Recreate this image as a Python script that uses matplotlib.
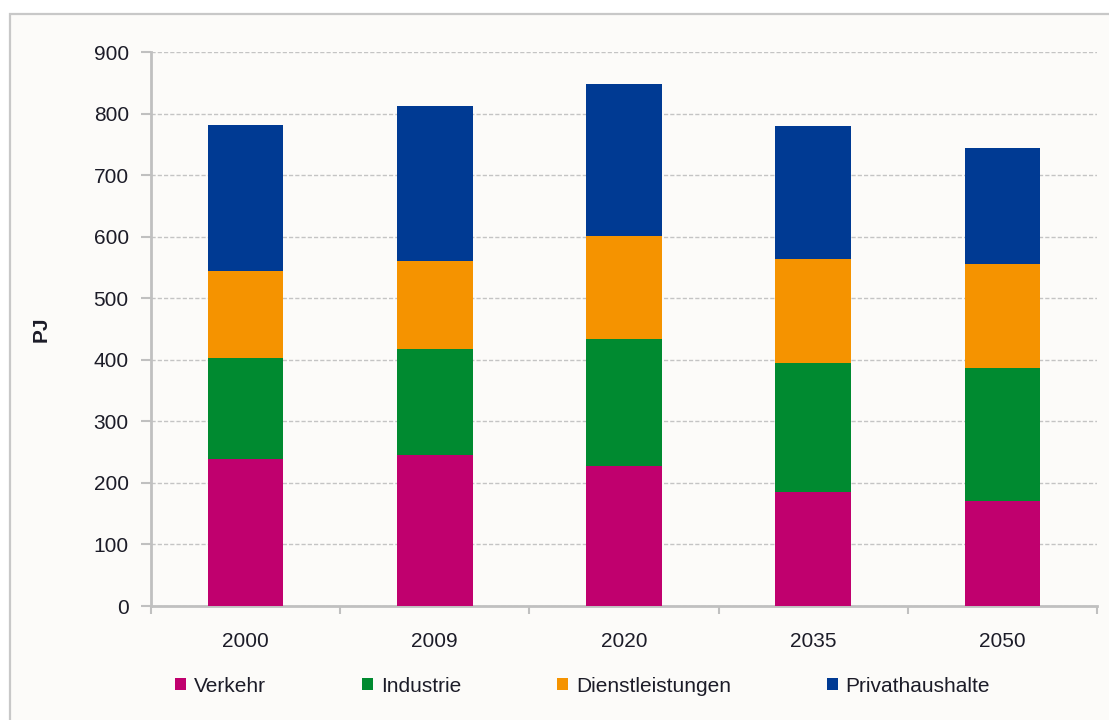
import matplotlib
matplotlib.use("Agg")
import matplotlib.pyplot as plt
from matplotlib.patches import Rectangle, Patch
import numpy as np

years = ["2000", "2009", "2020", "2035", "2050"]
verkehr = [239, 245, 228, 186, 170]
industrie = [164, 172, 206, 209, 217]
dienstleistungen = [141, 143, 167, 169, 169]
privathaushalte = [237, 252, 247, 215, 188]
series_names = ["Verkehr", "Industrie", "Dienstleistungen", "Privathaushalte"]
colors = ["#c0006e", "#008a30", "#f59300", "#003a93"]
yticks = [0, 100, 200, 300, 400, 500, 600, 700, 800, 900]

plt.rcParams['font.family'] = ['Liberation Sans', 'DejaVu Sans']
txt = "#1c1c28"
fs = 15

fig = plt.figure(figsize=(11.09, 7.2), dpi=100)
fig.patch.set_facecolor("white")
frame = Rectangle((10/1109, -0.05), 1.2, 0.05 + (720-14)/720, transform=fig.transFigure,
                  facecolor="#fcfbf9", edgecolor="#c8c8c8", linewidth=1.6, zorder=-5)
fig.patches.append(frame)

ax = fig.add_axes([151/1109, (720-606)/720, (1097-151)/1109, (606-52)/720])
ax.set_facecolor("none")
ax.set_zorder(2)

x = np.arange(len(years))
data = [verkehr, industrie, dienstleistungen, privathaushalte]
bottom = np.zeros(len(years))
for vals, c, name in zip(data, colors, series_names):
    ax.bar(x, vals, width=0.4, bottom=bottom, color=c, label=name, zorder=3)
    bottom += np.array(vals)

ax.set_xlim(-0.5, len(years) - 0.5)
ax.set_ylim(0, 900)
ax.set_yticks(yticks)
ax.set_yticklabels([str(v) for v in yticks], fontsize=fs, color=txt)
ax.set_xticks(x)
ax.set_xticklabels(years, fontsize=fs, color=txt)
ax.set_xticks(np.arange(-0.5, len(years)), minor=True)
ax.tick_params(axis='x', which='major', length=0, pad=19)
ax.tick_params(axis='x', which='minor', length=6, width=1.5, color="#c0c0c0", direction='out')
ax.tick_params(axis='y', which='major', length=7, width=1.5, color="#c0c0c0", pad=9)

for s in ['top', 'right']:
    ax.spines[s].set_visible(False)
for s in ['left', 'bottom']:
    ax.spines[s].set_color("#c0c0c0")
    ax.spines[s].set_linewidth(2)

ax.yaxis.grid(True, linestyle=(0, (3, 1.5)), color="#c4c4c4", linewidth=1, zorder=0)
ax.set_axisbelow(True)

ax.set_ylabel("PJ", fontsize=fs, fontweight='bold', color=txt, labelpad=31)

handles = [Patch(facecolor=c, edgecolor='none') for c in colors]
leg = fig.legend(handles, series_names, loc='center left', bbox_to_anchor=(175/1109, (720-686)/720),
                 ncol=4, frameon=False, fontsize=fs, handlelength=0.53, handleheight=0.53,
                 handletextpad=0.38, columnspacing=4.6, labelcolor=txt, borderaxespad=0, borderpad=0)

fig.savefig("out.png", dpi=100)
